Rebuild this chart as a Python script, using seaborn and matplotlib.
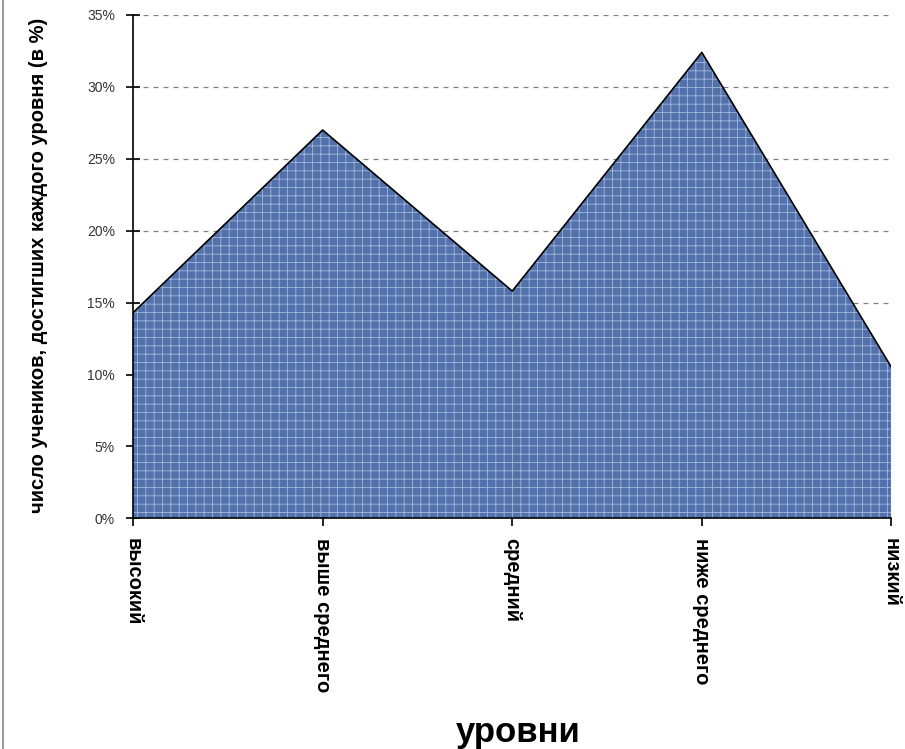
import matplotlib
matplotlib.use("Agg")
import matplotlib.pyplot as plt
import matplotlib.ticker as mticker
from matplotlib.lines import Line2D
import seaborn as sns
import pandas as pd

# ----------------------------
# data
# ----------------------------
levels = ["высокий", "выше среднего", "средний", "ниже среднего", "низкий"]
shares = [14.3, 27.0, 15.8, 32.4, 10.5]

df = pd.DataFrame({"level": levels, "share": shares})
df["pos"] = range(len(df))

sns.set_style("white")
plt.rcParams["font.family"] = ["Liberation Sans", "DejaVu Sans"]
plt.rcParams["hatch.linewidth"] = 0.6
plt.rcParams["text.color"] = "black"

fig = plt.figure(figsize=(9.05, 7.49), dpi=100)
ax = fig.add_axes([0.147, 0.308, 0.838, 0.672])

# dashed grid behind the area
ax.set_axisbelow(True)
ax.yaxis.grid(True, linestyle=(0, (4, 4)), color="#808080", linewidth=0.9)

# filled area with a woven texture look
ax.fill_between(df["pos"], 0, df["share"], facecolor="#5372ab",
                edgecolor="#a3b8dc", hatch="++", linewidth=0, zorder=2)
sns.lineplot(data=df, x="pos", y="share", color="black", linewidth=1.2,
             ax=ax, zorder=3)

ax.set_xlim(0, len(levels) - 1)
ax.set_ylim(0, 35)
ax.yaxis.set_major_locator(mticker.MultipleLocator(5))
ax.yaxis.set_major_formatter(mticker.FuncFormatter(lambda v, p: f"{v:.0f}%"))
ax.set_xticks(df["pos"])
ax.set_xticklabels(levels, rotation=-90, fontsize=14.5, fontweight="bold",
                   va="top", ha="center", color="black")

for s in ["top", "right"]:
    ax.spines[s].set_visible(False)
for s in ["left", "bottom"]:
    ax.spines[s].set_color("black")
    ax.spines[s].set_linewidth(1.2)

ax.tick_params(axis="y", direction="inout", length=10, width=1.2,
               color="black", left=True, labelsize=10,
               labelcolor="#333333", pad=8)
ax.tick_params(axis="x", direction="out", length=6, width=1.2,
               color="black", bottom=True, pad=8)

ax.set_xlabel("")
ax.set_ylabel("")
fig.text(0.043, 0.646, "число учеников, достигших каждого уровня (в %)",
         rotation=90, ha="center", va="center", fontsize=14.5,
         fontweight="bold", color="black")
fig.text(0.573, 0.022, "уровни", ha="center", va="center",
         fontsize=25, fontweight="bold", color="black")

# left border of the chart area
fig.add_artist(Line2D([0.003, 0.003], [0, 1], color="#888888",
                      linewidth=1.2, transform=fig.transFigure))

fig.savefig("out.png", dpi=100)
